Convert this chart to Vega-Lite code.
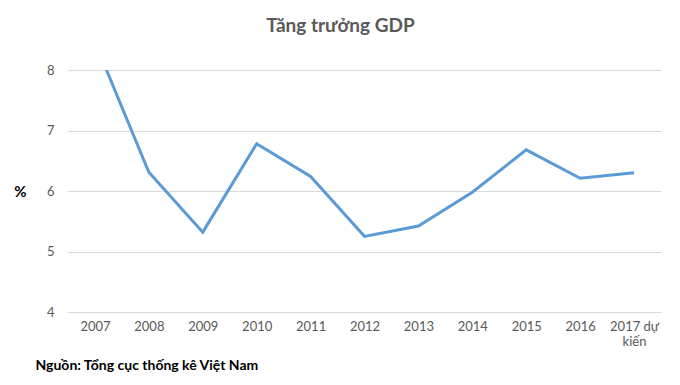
{
  "$schema": "https://vega.github.io/schema/vega-lite/v6.json",
  "width": 593,
  "height": 242,
  "autosize": {"type": "none"},
  "padding": {"left": 68, "top": 70, "right": 19, "bottom": 73},
  "background": "white",
  "config": {"view": {"stroke": null}, "font": "Lato"},
  "title": {
    "text": "Tăng trưởng GDP",
    "fontSize": 19,
    "fontWeight": "bold",
    "color": "#595959",
    "font": "Lato",
    "dx": -24,
    "offset": 28
  },
  "data": {
    "values": [
      {"year": "2007", "gdp": 8.46},
      {"year": "2008", "gdp": 6.31},
      {"year": "2009", "gdp": 5.32},
      {"year": "2010", "gdp": 6.78},
      {"year": "2011", "gdp": 6.24},
      {"year": "2012", "gdp": 5.25},
      {"year": "2013", "gdp": 5.42},
      {"year": "2014", "gdp": 5.98},
      {"year": "2015", "gdp": 6.68},
      {"year": "2016", "gdp": 6.21},
      {"year": "2017 dự kiến", "gdp": 6.3}
    ]
  },
  "mark": {"type": "line", "color": "#5B9BD5", "strokeWidth": 3, "clip": true},
  "encoding": {
    "x": {
      "field": "year",
      "type": "ordinal",
      "sort": null,
      "scale": {"paddingInner": 0, "paddingOuter": 0.5},
      "axis": {
        "labelAngle": 0,
        "labelFontSize": 13,
        "labelColor": "#595959",
        "labelPadding": 8,
        "labelExpr": "datum.value == '2017 dự kiến' ? ['2017 dự', 'kiến'] : datum.value",
        "ticks": false,
        "domain": true,
        "domainColor": "#d9d9d9",
        "grid": false,
        "title": "Nguồn: Tổng cục thống kê Việt Nam",
        "titleAnchor": "start",
        "titleAlign": "left",
        "titleX": -33,
        "titleY": 53,
        "titleBaseline": "middle",
        "titleFontSize": 14,
        "titleFontWeight": "bold",
        "titleColor": "#000000"
      }
    },
    "y": {
      "field": "gdp",
      "type": "quantitative",
      "scale": {"domain": [4, 8], "nice": false, "zero": false},
      "axis": {
        "values": [4, 5, 6, 7, 8],
        "labelFontSize": 13,
        "labelColor": "#595959",
        "labelPadding": 14,
        "ticks": false,
        "domain": false,
        "gridColor": "#d9d9d9",
        "title": "%",
        "titleAngle": 0,
        "titleX": -48,
        "titleY": 121,
        "titleBaseline": "middle",
        "titleAlign": "center",
        "titleFontSize": 15,
        "titleFontWeight": "bold",
        "titleColor": "#000000"
      }
    }
  }
}
